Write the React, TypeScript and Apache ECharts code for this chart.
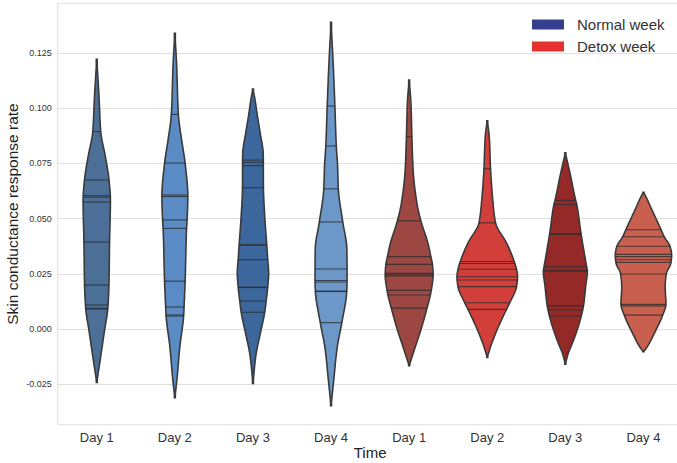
import React, { useEffect, useRef } from "react";
import * as echarts from "echarts";

// ---------- data ----------
const categories = ["Day 1", "Day 2", "Day 3", "Day 4", "Day 1", "Day 2", "Day 3", "Day 4"];
const groupNames = ["Normal week", "Detox week"];
const yTickValues = [-0.025, 0, 0.025, 0.05, 0.075, 0.1, 0.125];

// individual observations (inner "stick" lines)
const normalDay1Sticks = [0.0894, 0.0675, 0.0604, 0.0597, 0.0575, 0.0394, 0.0199, 0.0109, 0.0094, 0.0091];
const normalDay2Sticks = [0.0972, 0.0752, 0.0607, 0.06, 0.0494, 0.0456, 0.0217, 0.01, 0.0064, 0.0059];
const normalDay3Sticks = [0.0765, 0.0755, 0.074, 0.064, 0.0382, 0.038, 0.0314, 0.019, 0.0188, 0.0127, 0.0076];
const normalDay4Sticks = [0.101, 0.0829, 0.0635, 0.0485, 0.0272, 0.022, 0.0213, 0.0172, 0.017, 0.0029];
const detoxDay1Sticks = [0.0871, 0.049, 0.0328, 0.0293, 0.0252, 0.0246, 0.0241, 0.0175, 0.0154, 0.0095];
const detoxDay2Sticks = [0.0726, 0.0481, 0.0306, 0.0297, 0.0271, 0.0237, 0.0222, 0.0192, 0.0119, 0.0089];
const detoxDay3Sticks = [0.0583, 0.0564, 0.0433, 0.0428, 0.0282, 0.0265, 0.0262, 0.0105, 0.0086, 0.0059];
const detoxDay4Sticks = [0.045, 0.0418, 0.0375, 0.0338, 0.0328, 0.0314, 0.0302, 0.0249, 0.0112, 0.0105, 0.0063];

// density outline: [value, half-width as a fraction of one category band]
const normalDay1Density = [[-0.0242, 0], [-0.0154, 0.038], [-0.0005, 0.1], [0.0092, 0.141], [0.0198, 0.156], [0.0394, 0.164], [0.0584, 0.175], [0.0675, 0.157], [0.078, 0.111], [0.0894, 0.051], [0.1052, 0.029], [0.1221, 0]];
const normalDay2Density = [[-0.0311, 0], [-0.0231, 0.026], [-0.008, 0.064], [0.0063, 0.113], [0.0101, 0.118], [0.0219, 0.132], [0.0454, 0.15], [0.0494, 0.157], [0.0602, 0.166], [0.075, 0.132], [0.0856, 0.087], [0.0972, 0.045], [0.1203, 0.022], [0.1339, 0]];
const normalDay3Density = [[-0.0246, 0], [-0.0118, 0.038], [-0.0012, 0.099], [0.0076, 0.151], [0.0127, 0.169], [0.0189, 0.189], [0.0252, 0.201], [0.0316, 0.189], [0.038, 0.177], [0.0516, 0.15], [0.064, 0.134], [0.0788, 0.132], [0.0894, 0.09], [0.0969, 0.055], [0.104, 0.026], [0.1087, 0]];
const normalDay4Density = [[-0.0347, 0], [-0.0239, 0.032], [-0.0087, 0.077], [0.0029, 0.138], [0.0172, 0.201], [0.0219, 0.205], [0.0272, 0.205], [0.0365, 0.202], [0.0483, 0.151], [0.0635, 0.093], [0.0743, 0.083], [0.083, 0.067], [0.1011, 0.049], [0.1196, 0.028], [0.1389, 0]];
const detoxDay1Density = [[-0.0166, 0], [-0.008, 0.079], [0.0003, 0.156], [0.0094, 0.228], [0.0153, 0.271], [0.0177, 0.284], [0.0245, 0.307], [0.0293, 0.298], [0.0328, 0.278], [0.0388, 0.241], [0.0489, 0.151], [0.0569, 0.1], [0.072, 0.051], [0.0871, 0.035], [0.1022, 0.023], [0.1128, 0]];
const detoxDay2Density = [[-0.0128, 0], [-0.008, 0.042], [-0.0005, 0.124], [0.0089, 0.246], [0.0119, 0.288], [0.0192, 0.375], [0.0237, 0.388], [0.0272, 0.374], [0.0309, 0.342], [0.0388, 0.25], [0.0481, 0.106], [0.0599, 0.067], [0.0726, 0.042], [0.0871, 0.026], [0.0943, 0]];
const detoxDay3Density = [[-0.0159, 0], [-0.0109, 0.038], [-0.005, 0.106], [0.006, 0.205], [0.0086, 0.222], [0.0109, 0.234], [0.0192, 0.26], [0.0264, 0.282], [0.0282, 0.273], [0.043, 0.202], [0.0566, 0.145], [0.0584, 0.132], [0.0705, 0.06], [0.0798, 0]];
const detoxDay4Density = [[-0.0103, 0], [-0.008, 0.049], [-0.002, 0.138], [0.0063, 0.246], [0.0113, 0.288], [0.0192, 0.278], [0.0249, 0.292], [0.03, 0.352], [0.0335, 0.361], [0.0373, 0.342], [0.0418, 0.266], [0.0451, 0.224], [0.0554, 0.09], [0.0595, 0.038], [0.0619, 0]];

const sticksByCategory = [normalDay1Sticks, normalDay2Sticks, normalDay3Sticks, normalDay4Sticks, detoxDay1Sticks, detoxDay2Sticks, detoxDay3Sticks, detoxDay4Sticks];
const densityByCategory = [normalDay1Density, normalDay2Density, normalDay3Density, normalDay4Density, detoxDay1Density, detoxDay2Density, detoxDay3Density, detoxDay4Density];

// ---------- styles ----------
const violinFills = ["#4c6f98", "#5a8bc5", "#3b679d", "#6b97c9", "#9c4741", "#d23f3a", "#952928", "#c95f4f"];
const legendColors = ["#343f8e", "#e53230"];
const FONT = "'Liberation Sans', Arial, sans-serif";

// monotone cubic (PCHIP) evaluator for drawing the outline smoothly
function makePchip(pts: number[][]) {
  const xs = pts.map((p) => p[0]);
  const ys = pts.map((p) => p[1]);
  const n = xs.length;
  const h: number[] = [];
  const d: number[] = [];
  for (let i = 0; i < n - 1; i++) {
    h.push(xs[i + 1] - xs[i]);
    d.push((ys[i + 1] - ys[i]) / (xs[i + 1] - xs[i]));
  }
  const m: number[] = new Array(n).fill(0);
  m[0] = d[0];
  m[n - 1] = d[n - 2];
  for (let i = 1; i < n - 1; i++) {
    if (d[i - 1] * d[i] <= 0) m[i] = 0;
    else {
      const w1 = 2 * h[i] + h[i - 1];
      const w2 = h[i] + 2 * h[i - 1];
      m[i] = (w1 + w2) / (w1 / d[i - 1] + w2 / d[i]);
    }
  }
  return (x: number) => {
    if (x <= xs[0]) return ys[0];
    if (x >= xs[n - 1]) return ys[n - 1];
    let k = 0;
    while (k < n - 2 && x > xs[k + 1]) k++;
    const t = (x - xs[k]) / h[k];
    const t2 = t * t;
    const t3 = t2 * t;
    const v =
      (2 * t3 - 3 * t2 + 1) * ys[k] +
      (t3 - 2 * t2 + t) * h[k] * m[k] +
      (-2 * t3 + 3 * t2) * ys[k + 1] +
      (t3 - t2) * h[k] * m[k + 1];
    return Math.max(0, v);
  };
}

function renderViolin(params: any, api: any) {
  const idx = api.value(0);
  const dens = densityByCategory[idx];
  const sticks = sticksByCategory[idx];
  const f = makePchip(dens);
  const band = api.size([1, 0])[0];
  const cx = api.coord([idx, 0])[0];
  const vMin = dens[0][0];
  const vMax = dens[dens.length - 1][0];
  const N = 120;
  const left: number[][] = [];
  const right: number[][] = [];
  for (let i = 0; i <= N; i++) {
    const v = vMin + ((vMax - vMin) * i) / N;
    const w = Math.max(f(v), 0.006) * band;
    const y = api.coord([idx, v])[1];
    left.push([cx - w, y]);
    right.push([cx + w, y]);
  }
  const points = left.concat(right.reverse());
  const children: any[] = [
    {
      type: "polygon",
      shape: { points },
      style: { fill: violinFills[idx], stroke: "#3a3a3a", lineWidth: 1.6 },
    },
  ];
  sticks.forEach((v: number) => {
    const w = f(v) * band;
    const y = api.coord([idx, v])[1];
    children.push({
      type: "line",
      shape: { x1: cx - w, y1: y, x2: cx + w, y2: y },
      style: { stroke: "rgba(45,45,45,0.8)", lineWidth: 1.1 },
    });
  });
  return { type: "group", children };
}

export default function App() {
  const ref = useRef<HTMLDivElement>(null);
  useEffect(() => {
    if (!ref.current) return;
    const chart = echarts.init(ref.current, undefined, { renderer: "svg" });
    const gridLine = "#e2dedc";
    chart.setOption({
      animation: false,
      backgroundColor: "#ffffff",
      textStyle: { fontFamily: FONT },
      grid: {
        left: 57.7,
        right: -5.5,
        top: 3.3,
        bottom: 38.3,
        containLabel: false,
        outerBoundsMode: "none",
        show: true,
        borderColor: gridLine,
        borderWidth: 1,
        backgroundColor: "transparent",
      },
      legend: {
        data: groupNames,
        orient: "vertical",
        left: 532,
        top: 17,
        padding: 0,
        itemWidth: 32,
        itemHeight: 10,
        itemGap: 7,
        icon: "rect",
        textStyle: { fontSize: 15, color: "#333", fontFamily: FONT, lineHeight: 15, padding: [0, 0, 0, 8] },
      },
      xAxis: {
        type: "category",
        data: categories,
        boundaryGap: true,
        axisLine: { show: false },
        axisTick: { show: false },
        splitLine: { show: false },
        axisLabel: { fontSize: 13, color: "#333", margin: 6, fontFamily: FONT, interval: 0 },
        name: "Time",
        nameLocation: "middle",
        nameGap: 20,
        nameMoveOverlap: false,
        nameTextStyle: { fontSize: 15, color: "#222", fontFamily: FONT },
      },
      yAxis: {
        type: "value",
        min: -0.0433,
        max: 0.1475,
        axisLine: { show: false },
        axisTick: { show: false, customValues: yTickValues },
        axisLabel: {
          customValues: yTickValues,
          formatter: (v: number) => v.toFixed(3),
          fontSize: 9,
          color: "#333",
          margin: 6,
          fontFamily: FONT,
        },
        splitLine: { show: true, lineStyle: { color: gridLine, width: 1 } },
        name: "Skin conductance response rate",
        nameLocation: "middle",
        nameGap: 37,
        nameMoveOverlap: false,
        nameTextStyle: { fontSize: 15.5, color: "#222", fontFamily: FONT },
      },
      series: [
        {
          name: groupNames[0],
          type: "custom",
          itemStyle: { color: legendColors[0] },
          renderItem: renderViolin,
          encode: { x: 0, y: 1 },
          data: [[0, 0], [1, 0], [2, 0], [3, 0]],
          z: 3,
        },
        {
          name: groupNames[1],
          type: "custom",
          itemStyle: { color: legendColors[1] },
          renderItem: renderViolin,
          encode: { x: 0, y: 1 },
          data: [[4, 0], [5, 0], [6, 0], [7, 0]],
          z: 3,
        },
      ],
    });
    return () => chart.dispose();
  }, []);
  return <div ref={ref} style={{ position: "fixed", left: 0, top: 0, width: 677, height: 463 }} />;
}
